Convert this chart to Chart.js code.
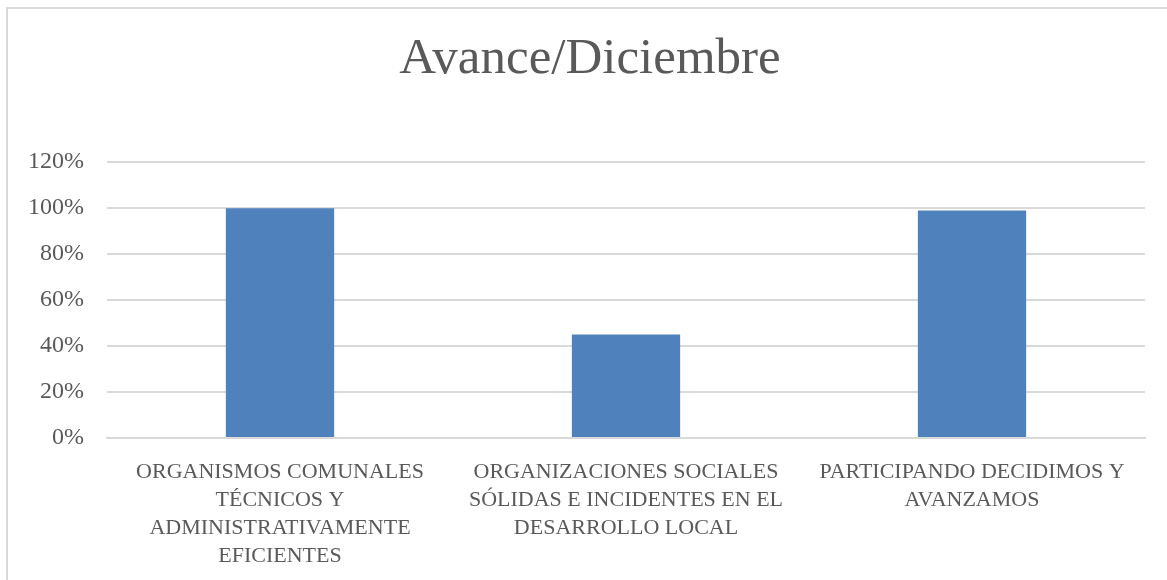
<!DOCTYPE html>
<html>
<head>
<meta charset="utf-8">
<script src="https://cdn.jsdelivr.net/npm/chart.js@4"></script>
<style>
  body { margin: 0; background: #fff; overflow: hidden; }
  #wrap { position: relative; width: 1167px; height: 580px; overflow: hidden; }
  #frame { position: absolute; left: 6px; top: 7px; width: 1200px; height: 600px; border: 2px solid #d9d9d9; box-sizing: border-box; pointer-events: none; }
  canvas { position: absolute; left: 0; top: 0; }
</style>
</head>
<body>
<div id="wrap">
  <canvas id="avanceChart" width="1167" height="580"></canvas>
  <div id="frame"></div>
</div>
<script>
// Avance por programa a diciembre
var categories = [
    ['ORGANISMOS COMUNALES', 'TÉCNICOS Y', 'ADMINISTRATIVAMENTE', 'EFICIENTES'],
    ['ORGANIZACIONES SOCIALES', 'SÓLIDAS E INCIDENTES EN EL', 'DESARROLLO LOCAL'],
    ['PARTICIPANDO DECIDIMOS Y', 'AVANZAMOS']
];
var avance = [1.00, 0.45, 0.99];
var yTicks = [0, 0.2, 0.4, 0.6, 0.8, 1.0, 1.2];

var textColor = '#595959';
var fontFamily = "'Liberation Serif', 'DejaVu Serif', serif";

// el título va centrado sobre todo el recuadro, no sólo sobre el área del gráfico
var centerTitle = {
    id: 'centerTitle',
    afterLayout: function (chart) {
        if (chart.titleBlock) {
            chart.titleBlock.left = 13;
            chart.titleBlock.right = chart.width;
        }
    }
};

var ctx = document.getElementById('avanceChart').getContext('2d');
new Chart(ctx, {
    type: 'bar',
    data: {
        labels: categories,
        datasets: [{
            label: 'Avance',
            data: avance,
            backgroundColor: '#4F81BD',
            barPercentage: 0.313,
            categoryPercentage: 1
        }]
    },
    options: {
        responsive: false,
        animation: false,
        layout: { padding: { left: 0, right: 22, top: 0, bottom: 0 } },
        plugins: {
            legend: { display: false },
            tooltip: { enabled: false },
            title: {
                display: true,
                text: 'Avance/Diciembre',
                color: textColor,
                font: { family: fontFamily, size: 51, weight: 'normal', lineHeight: 1.2 },
                padding: { top: 29, bottom: 72 }
            }
        },
        scales: {
            x: {
                grid: { display: false, drawTicks: false },
                border: { color: '#d9d9d9', width: 2 },
                ticks: {
                    color: textColor,
                    font: { family: fontFamily, size: 22, lineHeight: 1.273 },
                    padding: 20,
                    maxRotation: 0,
                    autoSkip: false
                },
                afterFit: function (scale) { scale.height = 142; }
            },
            y: {
                min: 0,
                max: 1.2,
                afterBuildTicks: function (scale) {
                    scale.ticks = yTicks.map(function (v) { return { value: v }; });
                },
                grid: { color: '#d9d9d9', lineWidth: 2, drawTicks: false },
                border: { display: false },
                ticks: {
                    color: textColor,
                    font: { family: fontFamily, size: 24 },
                    padding: 23,
                    callback: function (v) { return Math.round(v * 100) + '%'; }
                },
                afterFit: function (scale) { scale.width = 107; }
            }
        }
    },
    plugins: [centerTitle]
});
</script>
</body>
</html>
